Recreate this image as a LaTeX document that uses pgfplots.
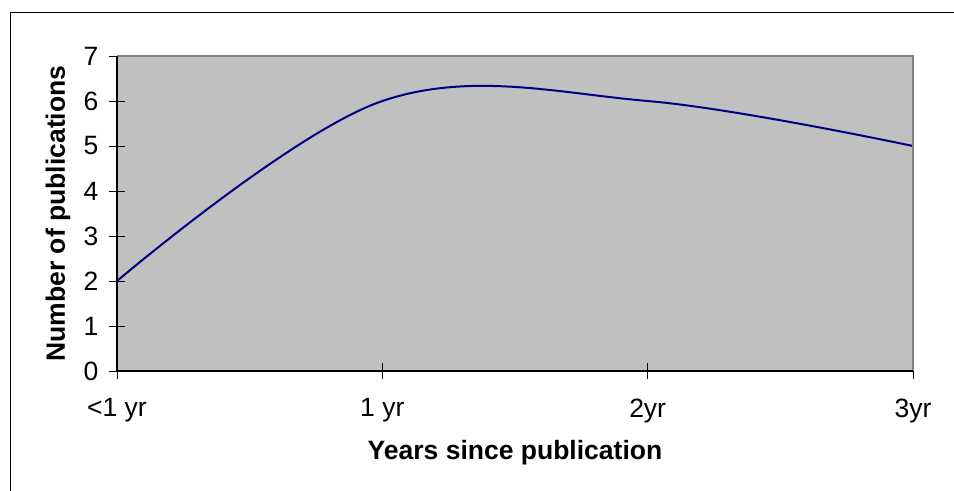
\documentclass[border=0pt]{standalone}
\usepackage{pgfplots}
\pgfplotsset{compat=1.18}
\usepackage{fontspec}
\setmainfont{Liberation Sans}
\definecolor{plotgray}{HTML}{C0C0C0}
\definecolor{bordergray}{HTML}{808080}
\definecolor{navyline}{HTML}{000080}
\begin{document}
\begin{tikzpicture}
\useasboundingbox (0,0) rectangle (954bp,491bp);
\draw[line width=1bp, black] (10bp,-5bp) -- (10bp,478bp) -- (960bp,478bp);
\begin{axis}[
  at={(117bp,120bp)}, anchor=south west,
  scale only axis,
  width=796bp, height=315bp,
  xmin=0, xmax=3, ymin=0, ymax=7,
  xtick={0,1,2,3},
  xticklabels={{<1 yr},{1 yr},{2yr},{3yr}},
  ytick={0,1,2,3,4,5,6,7},
  xtick pos=bottom, ytick pos=left,
  tick align=center,
  major tick length=16bp,
  tick style={black, line width=1bp},
  axis line style={draw=none},
  axis background/.style={fill=plotgray},
  /pgf/number format/assume math mode=true,
  ticklabel style={font=\fontsize{26.5bp}{31bp}\selectfont},
  yticklabel style={anchor=east, xshift=-7bp},
  xticklabel style={anchor=north, yshift=-16bp},
  xlabel={\textbf{Years since publication}},
  ylabel={\textbf{Number of publications}},
  label style={font=\fontsize{26.5bp}{31bp}\selectfont},
  xlabel style={at={(axis description cs:0.5,0)}, anchor=center, yshift=-82bp},
  ylabel style={at={(axis description cs:0,0.5)}, anchor=center, rotate=0, yshift=59bp},
  clip=false,
]
\addplot[navyline, line width=2bp, smooth, tension=0.6, mark=none] coordinates {(0,2) (1,6) (2,6) (3,5)};
\draw[bordergray, line width=2bp] (rel axis cs:0,1) -- (rel axis cs:1,1) -- (rel axis cs:1,0);
\draw[black, line width=1.5bp] (rel axis cs:0,1) -- (rel axis cs:0,0) -- (rel axis cs:1,0);
\end{axis}
\end{tikzpicture}
\end{document}
